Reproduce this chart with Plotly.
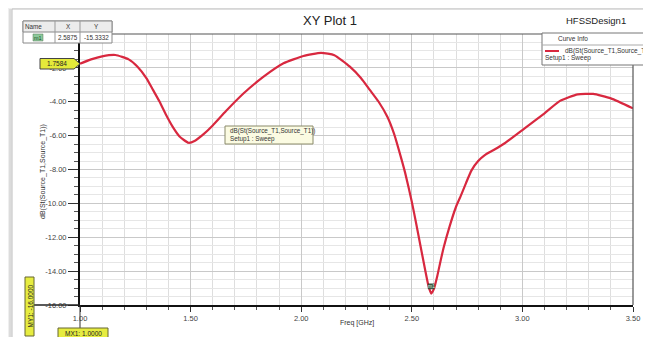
import plotly.graph_objects as go

# ---- data ----
freq_ghz = [1.00, 1.05, 1.10, 1.16, 1.22, 1.26, 1.30, 1.33, 1.36, 1.39, 1.42, 1.45,
            1.49, 1.52, 1.56, 1.60, 1.66, 1.74, 1.83, 1.92, 2.01, 2.09, 2.15,
            2.22, 2.27, 2.31, 2.35, 2.39, 2.42, 2.45, 2.47, 2.50, 2.52, 2.54, 2.56,
            2.575, 2.5875, 2.60, 2.615, 2.63, 2.645, 2.67, 2.70, 2.72, 2.745, 2.77,
            2.80, 2.83, 2.87, 2.92, 3.01, 3.10, 3.17, 3.25, 3.32, 3.40, 3.50]
s11_db = [-1.76, -1.50, -1.32, -1.24, -1.50, -1.93, -2.60, -3.30, -4.00, -4.80, -5.50, -6.05,
          -6.42, -6.30, -5.90, -5.40, -4.55, -3.50, -2.52, -1.73, -1.30, -1.11, -1.25,
          -1.93, -2.60, -3.30, -4.00, -4.90, -5.90, -7.24, -8.20, -9.90, -11.20, -12.56, -13.90,
          -14.85, -15.33, -15.05, -14.30, -13.40, -12.56, -11.40, -10.20, -9.60, -8.80, -8.05,
          -7.50, -7.15, -6.85, -6.45, -5.57, -4.68, -3.95, -3.56, -3.54, -3.80, -4.39]
y_tickvals = [-16, -14, -12, -10, -8, -6, -4, -2]
y_ticktext = ["-16.00", "-14.00", "-12.00", "-10.00", "-8.00", "-6.00", "-4.00", "-2.00"]
x_tickvals = [1.0, 1.5, 2.0, 2.5, 3.0, 3.5]
x_ticktext = ["1.00", "1.50", "2.00", "2.50", "3.00", "3.50"]
curve_name = "dB(St(Source_T1,Source_T1))"
setup_name = "Setup1 : Sweep"
marker_name = "m1"
marker_x = 2.5875
marker_y = -15.3332

FONT = "Liberation Sans, Arial, sans-serif"
OFF = 8                      # page body margin of the html page
W, H = 651 - OFF, 337 - OFF  # figure size so it ends at the window edge
L, R, T, B = 80, 633, 34, 305  # plot area in window pixels


def PX(x):
    return (x - L) / (R - L)


def PY(y):
    return (B - y) / (B - T)


fig = go.Figure()
fig.add_trace(go.Scatter(x=freq_ghz, y=s11_db, mode="lines",
                         line=dict(color="#d8283f", width=2.2, shape="spline", smoothing=0.5),
                         showlegend=False, hoverinfo="skip"))

shapes = []
# window background panel
shapes.append(dict(type="rect", xref="paper", yref="paper", x0=PX(12), x1=PX(652),
                   y0=PY(338), y1=PY(9), fillcolor="white", line=dict(color="#bdbdbd", width=1),
                   layer="below"))
shapes.append(dict(type="line", xref="paper", yref="paper", x0=PX(10), x1=PX(10),
                   y0=PY(338), y1=PY(9), line=dict(color="#c8c8c8", width=1), layer="below"))
# plot frame top and right
shapes.append(dict(type="line", xref="paper", yref="paper", x0=PX(80), x1=PX(651),
                   y0=1, y1=1, line=dict(color="#555555", width=1.2)))
shapes.append(dict(type="line", xref="paper", yref="paper", x0=1, x1=1,
                   y0=0, y1=PY(65), line=dict(color="#555555", width=1.2)))
# marker table
tx0, tx1, ty0, ty1, tym = 23, 112, 21, 43, 32
shapes.append(dict(type="rect", xref="paper", yref="paper", x0=PX(tx0), x1=PX(tx1),
                   y0=PY(ty1), y1=PY(ty0), fillcolor="white", line=dict(color="#888888", width=1)))
shapes.append(dict(type="rect", xref="paper", yref="paper", x0=PX(tx0), x1=PX(tx1),
                   y0=PY(tym), y1=PY(ty0), fillcolor="#ececec", line=dict(color="#888888", width=1)))
for cx in (55, 80):
    shapes.append(dict(type="line", xref="paper", yref="paper", x0=PX(cx), x1=PX(cx),
                       y0=PY(ty1), y1=PY(ty0), line=dict(color="#999999", width=1)))
shapes.append(dict(type="rect", xref="paper", yref="paper", x0=PX(33), x1=PX(43),
                   y0=PY(41), y1=PY(34), fillcolor="#8cc99a", line=dict(color="#557755", width=0.5)))
# curve info legend box
shapes.append(dict(type="rect", xref="paper", yref="paper", x0=PX(542), x1=PX(660),
                   y0=PY(65), y1=PY(33), fillcolor="white", line=dict(color="#777777", width=1)))
shapes.append(dict(type="line", xref="paper", yref="paper", x0=PX(542), x1=PX(660),
                   y0=PY(45), y1=PY(45), line=dict(color="#aaaaaa", width=1)))
shapes.append(dict(type="line", xref="paper", yref="paper", x0=PX(545), x1=PX(559),
                   y0=PY(51), y1=PY(51), line=dict(color="#d8283f", width=2)))
# curve annotation box
shapes.append(dict(type="rect", xref="paper", yref="paper", x0=PX(225), x1=PX(313),
                   y0=PY(144), y1=PY(126), fillcolor="#fbfbe2", line=dict(color="#8a8a6a", width=1)))
# Y marker arrow label
shapes.append(dict(type="path", xref="paper", yref="paper",
                   path="M {a},{b} L {c},{b} L {d},{e} L {c},{f} L {a},{f} Z".format(
                       a=PX(40), b=PY(58.5), c=PX(74), d=PX(80), e=PY(63.8), f=PY(69)),
                   fillcolor="#e4ea3a", line=dict(color="#444444", width=1)))
# X marker line + label
shapes.append(dict(type="line", xref="paper", yref="paper", x0=0, x1=0,
                   y0=PY(329), y1=0, line=dict(color="#333333", width=1)))
shapes.append(dict(type="rect", xref="paper", yref="paper", x0=PX(58), x1=PX(108),
                   y0=PY(340), y1=PY(328), fillcolor="#e6ec40", line=dict(color="#666633", width=1)))
# Y=-16 marker line + vertical label
shapes.append(dict(type="line", xref="paper", yref="paper", x0=PX(33), x1=0,
                   y0=0, y1=0, line=dict(color="#222222", width=1.5)))
shapes.append(dict(type="rect", xref="paper", yref="paper", x0=PX(25), x1=PX(34),
                   y0=PY(336), y1=PY(277), fillcolor="#e6ec40", line=dict(color="#666633", width=1)))
# m1 marker box on curve
shapes.append(dict(type="rect", xref="x", yref="y", x0=2.574, x1=2.601,
                   y0=-15.05, y1=-14.75, fillcolor="#3f5f4a", line=dict(color="#223322", width=0.5)))

ann = []


def txt(x, y, s, size=6.5, color="#333333", xanchor="center", angle=0):
    ann.append(dict(xref="paper", yref="paper", x=PX(x), y=PY(y), text=s, showarrow=False,
                    xanchor=xanchor, yanchor="middle", textangle=angle,
                    font=dict(family=FONT, size=size, color=color)))


txt(330, 20, "XY Plot 1", size=13, color="#222222")
txt(596, 20, "HFSSDesign1", size=9.5, color="#222222")
txt(33, 26.5, "Name", size=6.3)
txt(68, 26.5, "X", size=6.3)
txt(96, 26.5, "Y", size=6.3)
txt(38, 37.5, marker_name, size=5.5, color="#1f4f2a")
txt(68, 37.5, "{:.4f}".format(marker_x), size=6.3)
txt(96, 37.5, "{:.4f}".format(marker_y), size=6.3)
txt(573, 39, "Curve Info", size=6.5)
txt(563, 51, curve_name, size=6.5, xanchor="left")
txt(543, 58, setup_name, size=6.5, xanchor="left")
txt(228, 131, curve_name, size=6.3, xanchor="left")
txt(228, 139, setup_name, size=6.3, xanchor="left")
txt(57, 63.8, "1.7584", size=6.5, color="#222222")
txt(83, 333.5, "MX1: 1.0000", size=6.5, color="#222222")
txt(29.5, 306, "MY1: -16.0000", size=6.5, color="#222222", angle=-90)
txt(43, 172, curve_name, size=7, angle=-90)
txt(357, 323, "Freq [GHz]", size=7)
ann.append(dict(xref="x", yref="y", x=2.5875, y=-14.9, text="m1", showarrow=False,
                font=dict(family=FONT, size=5, color="#dfe8df")))

fig.update_layout(
    width=W, height=H,
    margin=dict(l=L - OFF, r=(W + OFF) - R, t=T - OFF, b=(H + OFF) - B, pad=0),
    paper_bgcolor="#efefef", plot_bgcolor="white",
    showlegend=False,
    shapes=shapes, annotations=ann,
    font=dict(family=FONT, size=7, color="#333333"),
)
fig.update_xaxes(range=[1.0, 3.5], tickvals=x_tickvals, ticktext=x_ticktext,
                 showline=True, linecolor="#111111", linewidth=2,
                 ticks="outside", ticklen=5, tickcolor="#333333",
                 showgrid=True, gridcolor="#c9c9c9", gridwidth=1,
                 minor=dict(dtick=0.1, tick0=1.0, ticks="outside", ticklen=3, tickcolor="#555555",
                            showgrid=True, gridcolor="#dedede", gridwidth=1),
                 tickfont=dict(family=FONT, size=7.5, color="#444444"),
                 zeroline=False, fixedrange=True)
fig.update_yaxes(range=[-16, 0], tickvals=y_tickvals, ticktext=y_ticktext,
                 showline=True, linecolor="#111111", linewidth=2,
                 ticks="outside", ticklen=10, tickcolor="#333333",
                 showgrid=True, gridcolor="#c9c9c9", gridwidth=1,
                 minor=dict(dtick=0.5, tick0=-16, ticks="outside", ticklen=4, tickcolor="#555555",
                            showgrid=True, gridcolor="#e6e6e6", gridwidth=1),
                 tickfont=dict(family=FONT, size=7.5, color="#444444"),
                 zeroline=False, fixedrange=True)

fig.write_html("out.html")
